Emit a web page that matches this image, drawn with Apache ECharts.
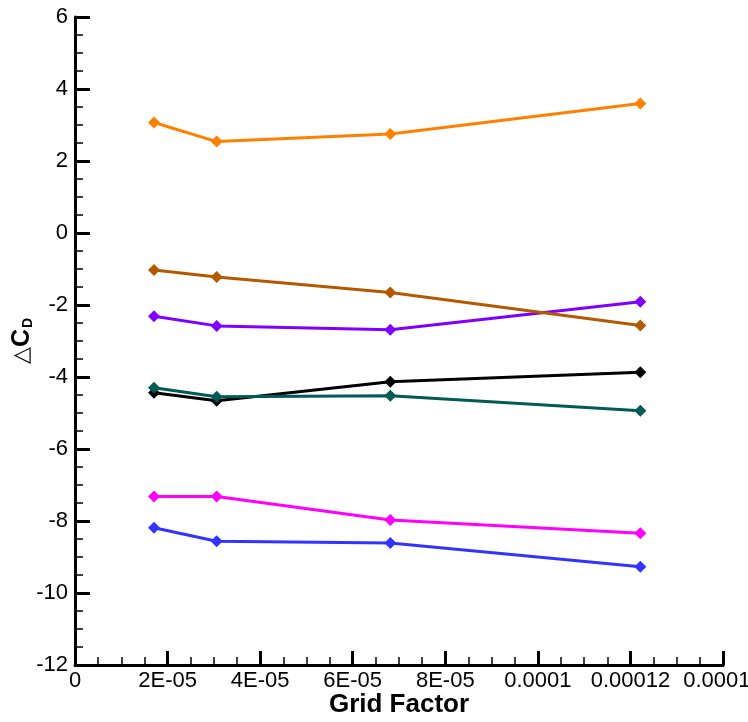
<!DOCTYPE html>
<html><head><meta charset="utf-8">
<script src="https://cdn.jsdelivr.net/npm/echarts@6/dist/echarts.min.js"></script>
<style>html,body{margin:0;padding:0;background:#fff}#c{width:748px;height:722px}</style>
</head><body><div id="c"></div>
<script>
const gridFactor = [1.707e-5, 3.061e-5, 6.812e-5, 1.2213e-4];
const xTickLabels = ['0', '2E-05', '4E-05', '6E-05', '8E-05', '0.0001', '0.00012', '0.00014'];
const yTickLabels = ['-12', '-10', '-8', '-6', '-4', '-2', '0', '2', '4', '6'];
const seriesOrange = [3.07, 2.54, 2.75, 3.60];
const seriesBrown = [-1.03, -1.22, -1.65, -2.57];
const seriesPurple = [-2.31, -2.58, -2.69, -1.91];
const seriesTeal = [-4.30, -4.55, -4.52, -4.94];
const seriesBlack = [-4.44, -4.66, -4.13, -3.87];
const seriesMagenta = [-7.32, -7.32, -7.97, -8.34];
const seriesBlue = [-8.19, -8.56, -8.61, -9.27];

const colors = ['#FF8000', '#B35A00', '#8000FF', '#005A55', '#000000', '#FF00FF', '#3333FF'];
const allSeries = [seriesOrange, seriesBrown, seriesPurple, seriesTeal, seriesBlack, seriesMagenta, seriesBlue];

const chart = echarts.init(document.getElementById('c'), null, {renderer: 'canvas'});
const font = 'Liberation Sans, Arial, Helvetica, sans-serif';
chart.setOption({
  animation: false,
  grid: {left: 75, right: 25, top: 17, bottom: 57, containLabel: false, outerBoundsMode: 'none'},
  xAxis: {
    type: 'value', min: 0, max: 1.4e-4, interval: 2e-5,
    name: 'Grid Factor', nameLocation: 'middle', nameGap: 27, nameMoveOverlap: false,
    nameTextStyle: {fontFamily: font, fontSize: 26, fontWeight: 'bold', color: '#000'},
    axisLine: {show: true, onZero: false, lineStyle: {color: '#000', width: 3}},
    axisTick: {show: true, inside: true, length: 14, lineStyle: {color: '#000', width: 3}},
    minorTick: {show: true, splitNumber: 4, length: 8, lineStyle: {color: '#000', width: 1.5}},
    splitLine: {show: false},
    axisLabel: {
      fontFamily: font, fontSize: 22, color: '#000', margin: 5, hideOverlap: false,
      formatter: function (v) { return xTickLabels[Math.round(v / 2e-5)] || ''; }
    }
  },
  yAxis: {
    type: 'value', min: -12, max: 6, interval: 2,
    name: '{a|△}{b|C}{c|D}', nameLocation: 'middle', nameGap: 40, nameRotate: 90, nameMoveOverlap: false,
    nameTextStyle: {
      rich: {
        a: {fontFamily: font, fontSize: 22, color: '#000'},
        b: {fontFamily: font, fontSize: 25, fontWeight: 'bold', color: '#000'},
        c: {fontFamily: font, fontSize: 14, fontWeight: 'bold', color: '#000', padding: [12, 0, 0, 1]}
      }
    },
    axisLine: {show: true, onZero: false, lineStyle: {color: '#000', width: 3}},
    axisTick: {show: true, inside: true, length: 15, lineStyle: {color: '#000', width: 3}},
    minorTick: {show: true, splitNumber: 4, length: 8, lineStyle: {color: '#000', width: 1.5}},
    splitLine: {show: false},
    axisLabel: {
      fontFamily: font, fontSize: 22, color: '#000', margin: 7,
      formatter: function (v) { return yTickLabels[Math.round((v + 12) / 2)]; }
    }
  },
  series: allSeries.map((vals, i) => ({
    type: 'line',
    data: vals.map((y, j) => [gridFactor[j], y]),
    symbol: 'diamond', symbolSize: 12, showSymbol: true,
    lineStyle: {color: colors[i], width: 3},
    itemStyle: {color: colors[i]},
    z: 10 - i
  }))
});
</script></body></html>
